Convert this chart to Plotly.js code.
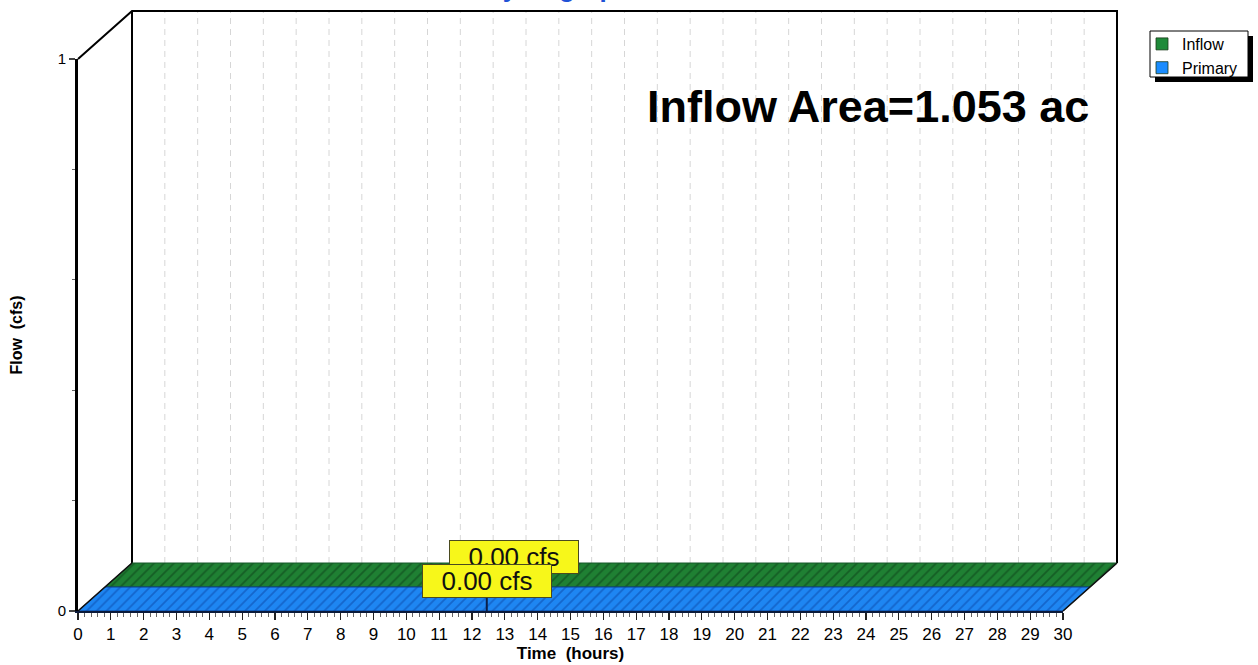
<!DOCTYPE html>
<html><head><meta charset="utf-8">
<script src="https://cdn.plot.ly/plotly-3.0.1.min.js"></script>
<style>html,body{margin:0;padding:0;background:#fff;} #chart{width:1258px;height:665px;}</style>
</head><body><div id="chart"></div>
<script>
// ---------- data ----------
const hours = [0,1,2,3,4,5,6,7,8,9,10,11,12,13,14,15,16,17,18,19,20,21,22,23,24,25,26,27,28,29,30];
const inflowCfs  = [0,0,0,0,0,0,0,0,0,0,0,0,0,0,0,0,0,0,0,0,0,0,0,0,0,0,0,0,0,0,0];
const primaryCfs = [0,0,0,0,0,0,0,0,0,0,0,0,0,0,0,0,0,0,0,0,0,0,0,0,0,0,0,0,0,0,0];
const seriesNames = ['Inflow', 'Primary'];
const peakHours = [12.45, 12.45];
const peakCfs = [0.00, 0.00];
const xTickLabels = ['0','1','2','3','4','5','6','7','8','9','10','11','12','13','14','15','16','17','18','19','20','21','22','23','24','25','26','27','28','29','30'];
const yTickValues = [0, 1];
const yTickLabels = ['0', '1'];
const areaNote = 'Inflow Area=1.053 ac';
const chartTitle = 'Hydrograph';

// ---------- geometry / style ----------
const W = 1258, H = 665;
const PX_T0 = 78, PX_T30 = 1063, PY_Q0 = 611, PY_Q1 = 59;
const DEPTH_X = 54, DEPTH_Y = 48;
const sx = (PX_T30 - PX_T0) / 30, sy = (PY_Q0 - PY_Q1);
const dT = DEPTH_X / sx, dQ = DEPTH_Y / sy;
const ox = (t, d) => t + d * dT;
const oy = (q, d) => q + d * dQ;
const OX_L = 60, OX_R = 1135, OY_T = 4, OY_B = 622;
const FONT = 'Liberation Sans, Arial, Helvetica, sans-serif';
const colors = {
  Inflow:  {bg: '#1f8033', fg: '#155e25', edge: '#17592a', key: '#1f8a3a'},
  Primary: {bg: '#1e86f2', fg: '#1466cc', edge: '#0d3f8f', key: '#1a8cff'}
};
const depths = {Primary: [0, 0.5], Inflow: [0.5, 1]};
const valuesOf = {Inflow: inflowCfs, Primary: primaryCfs};

function ribbon(values, d0, d1) {
  const xs = [], ys = [];
  for (let i = 0; i < hours.length; i++) { xs.push(ox(hours[i], d0)); ys.push(oy(values[i], d0)); }
  for (let i = hours.length - 1; i >= 0; i--) { xs.push(ox(hours[i], d1)); ys.push(oy(values[i], d1)); }
  xs.push(xs[0]); ys.push(ys[0]);
  return {xs, ys};
}

const traces = [];
// back wall grid lines
{
  const gx = [], gy = [];
  hours.forEach(h => { if (h > 0 && h < 30) { gx.push(ox(h,1), ox(h,1), null); gy.push(oy(0,1), oy(1,1), null); } });
  traces.push({type:'scatter', mode:'lines', x:gx, y:gy, xaxis:'x', yaxis:'y', showlegend:false, hoverinfo:'skip',
    line:{color:'#d6d6d6', width:1, dash:'6px,5px'}});
}
// back wall outline and top-left diagonal
traces.push({type:'scatter', mode:'lines', xaxis:'x', yaxis:'y', showlegend:false, hoverinfo:'skip',
  x:[ox(0,0), ox(0,1), ox(30,1), ox(30,1), null, ox(0,1), ox(0,1)],
  y:[oy(1,0), oy(1,1), oy(1,1), oy(0,1), null, oy(1,1), oy(0,1)],
  line:{color:'#000', width:2}});
// ribbons (back first)
['Inflow', 'Primary'].forEach(name => {
  const r = ribbon(valuesOf[name], depths[name][0], depths[name][1]);
  traces.push({type:'scatter', mode:'lines', x:r.xs, y:r.ys, xaxis:'x', yaxis:'y', fill:'toself', showlegend:false,
    fillcolor: colors[name].bg, hoverinfo:'skip',
    fillpattern:{shape:'/', bgcolor:colors[name].bg, fgcolor:colors[name].fg, size:7, solidity:0.25},
    line:{color:colors[name].edge, width:1}});
});
// floor side edges
traces.push({type:'scatter', mode:'lines', xaxis:'x', yaxis:'y', showlegend:false, hoverinfo:'skip',
  x:[ox(30,0), ox(30,1), null, ox(0,0), ox(0,1)],
  y:[oy(0,0), oy(0,1), null, oy(0,0), oy(0,1)],
  line:{color:'#111', width:1.6}});
// legend keys on the visible axes
seriesNames.forEach(name => {
  traces.push({type:'scatter', mode:'markers', name:name, x:[null], y:[null], xaxis:'x2', yaxis:'y2',
    marker:{symbol:'square', size:12, color:colors[name].key, line:{color:'#1a3a1a', width:0.8}}});
});

const annotations = [
  {xref:'paper', yref:'paper', x:557/W, y:1 - 5/H, xanchor:'center', yanchor:'bottom', showarrow:false,
   text:chartTitle, font:{family:FONT, size:26, color:'#1f52d6', weight:'bold'}},
  {xref:'paper', yref:'paper', x:868/W, y:1 - 106/H, xanchor:'center', yanchor:'middle', showarrow:false,
   text:areaNote, font:{family:FONT, size:45, color:'#000', weight:'bold'}}
];
// peak labels (Inflow first so Primary sits on top)
seriesNames.forEach((name, i) => {
  annotations.push({xref:'x', yref:'y', x:ox(peakHours[i], depths[name][0]), y:oy(peakCfs[i], depths[name][0]),
    xanchor:'center', yanchor:'bottom', yshift:13, showarrow:false,
    text: peakCfs[i].toFixed(2) + ' cfs', width:126, height:30, borderpad:1,
    bgcolor:'#f7f71a', bordercolor:'#4a4a20', borderwidth:1,
    font:{family:FONT, size:26, color:'#111'}});
});

const shapes = [
  // peak marker on the front ribbon
  {type:'line', xref:'x', yref:'y', x0:ox(peakHours[1],0), x1:ox(peakHours[1],0), ysizemode:'pixel',
   yanchor:oy(peakCfs[1],0), y0:0, y1:13, line:{color:'#0a1f4a', width:2}},
  // legend frame with drop shadow
  {type:'rect', xref:'paper', yref:'paper', x0:1155/W, x1:1253/W, y0:1 - 82/H, y1:1 - 36/H,
   fillcolor:'#000', line:{width:0}, layer:'below'},
  {type:'rect', xref:'paper', yref:'paper', x0:1150/W, x1:1248/W, y0:1 - 77/H, y1:1 - 31/H,
   fillcolor:'#fff', line:{width:1, color:'#000'}, layer:'below'}
];

const layout = {
  width: W, height: H, margin:{l:0, r:0, t:0, b:0}, paper_bgcolor:'#fff', plot_bgcolor:'rgba(0,0,0,0)',
  font:{family:FONT, color:'#000'},
  xaxis:{domain:[OX_L/W, OX_R/W], range:[(OX_L-PX_T0)/sx, (OX_R-PX_T0)/sx], visible:false, fixedrange:true},
  yaxis:{domain:[1-OY_B/H, 1-OY_T/H], range:[(PY_Q0-OY_B)/sy, (PY_Q0-OY_T)/sy], visible:false, fixedrange:true},
  xaxis2:{domain:[PX_T0/W, PX_T30/W], range:[0,30], anchor:'y2', tickmode:'array', tickvals:hours, ticktext:xTickLabels,
    ticks:'outside', ticklen:7, tickwidth:1.2, tickcolor:'#222', showline:true, linewidth:2, linecolor:'#0b1a3a',
    showgrid:false, zeroline:false, tickfont:{size:17, family:FONT},
    minor:{dtick:0.2, ticklen:4, tickwidth:1, tickcolor:'#666', showgrid:false, ticks:'outside'},
    title:{text:'Time  (hours)', font:{size:17, family:FONT, weight:'bold'}, standoff:1}},
  yaxis2:{domain:[1-PY_Q0/H, 1-PY_Q1/H], range:[0,1], anchor:'x2', tickmode:'array', tickvals:yTickValues, ticktext:yTickLabels,
    ticks:'outside', ticklen:6, tickwidth:1.2, showline:true, linewidth:3, linecolor:'#000',
    showgrid:false, zeroline:false, tickfont:{size:15, family:FONT},
    minor:{dtick:0.2, ticklen:3, tickwidth:1, tickcolor:'#666', showgrid:false, ticks:'outside'},
    title:{text:'Flow  (cfs)', font:{size:16, family:FONT, weight:'bold'}, standoff:32}},
  showlegend:true,
  legend:{x:1142/W, y:1-27/H, xanchor:'left', yanchor:'top', bgcolor:'rgba(0,0,0,0)', borderwidth:0,
    font:{size:16, family:FONT}, itemwidth:30, tracegroupgap:0},
  annotations, shapes
};

Plotly.newPlot('chart', traces, layout, {displayModeBar:false, staticPlot:true});
</script></body></html>
